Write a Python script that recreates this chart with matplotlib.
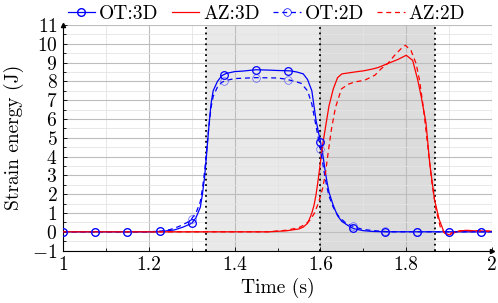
import numpy as np
import matplotlib
matplotlib.use("Agg")
import matplotlib.pyplot as plt
from matplotlib.ticker import MultipleLocator

plt.rcParams['font.family'] = 'serif'
plt.rcParams['font.serif'] = ['cmr10']
plt.rcParams['mathtext.fontset'] = 'cm'
plt.rcParams['axes.formatter.use_mathtext'] = True
plt.rcParams['font.size'] = 14

# OT:3D
ot3_t = [1.00, 1.20, 1.23, 1.26, 1.28, 1.30, 1.31, 1.32, 1.325, 1.33, 1.335, 1.34, 1.345,
         1.35, 1.36, 1.37, 1.38, 1.40, 1.42, 1.45, 1.48, 1.50, 1.53, 1.545, 1.56, 1.57,
         1.58, 1.59, 1.60, 1.605, 1.61, 1.615, 1.62, 1.63, 1.64, 1.65, 1.66, 1.67, 1.68,
         1.70, 1.72, 1.75, 2.00]
ot3_e = [0.0, 0.0, 0.02, 0.1, 0.25, 0.45, 0.75, 1.3, 2.0, 2.9, 4.2, 5.6, 6.8,
         7.5, 8.0, 8.3, 8.42, 8.52, 8.55, 8.62, 8.6, 8.58, 8.56, 8.5, 8.4, 8.1,
         7.5, 5.9, 4.8, 4.2, 3.4, 2.7, 2.1, 1.4, 0.85, 0.55, 0.4, 0.25, 0.15,
         0.06, 0.02, 0.0, 0.0]

# OT:2D
ot2_t = [1.00, 1.20, 1.23, 1.25, 1.27, 1.29, 1.30, 1.31, 1.32, 1.325, 1.33, 1.335, 1.34,
         1.345, 1.35, 1.36, 1.37, 1.38, 1.40, 1.45, 1.50, 1.52, 1.54, 1.555, 1.57, 1.58,
         1.59, 1.60, 1.605, 1.61, 1.615, 1.62, 1.63, 1.64, 1.65, 1.66, 1.68, 1.70, 1.73,
         1.76, 2.00]
ot2_e = [0.0, 0.0, 0.04, 0.12, 0.28, 0.5, 0.7, 1.0, 1.6, 2.3, 3.2, 4.4, 5.6,
         6.6, 7.2, 7.7, 7.95, 8.05, 8.15, 8.2, 8.18, 8.12, 8.0, 7.9, 7.5, 6.8,
         5.6, 4.4, 3.7, 3.0, 2.4, 1.9, 1.3, 0.9, 0.65, 0.45, 0.25, 0.12, 0.05,
         0.0, 0.0]

# AZ:3D
az3_t = [1.00, 1.48, 1.52, 1.55, 1.56, 1.57, 1.575, 1.58, 1.585, 1.59, 1.595, 1.60,
         1.605, 1.61, 1.615, 1.62, 1.63, 1.64, 1.65, 1.665, 1.68, 1.70, 1.72, 1.735,
         1.757, 1.78, 1.80, 1.815, 1.827, 1.835, 1.846, 1.855, 1.866, 1.877, 1.889,
         1.90, 1.92, 1.94, 1.96, 2.00]
az3_e = [0.0, 0.0, 0.05, 0.15, 0.25, 0.45, 0.7, 1.0, 1.4, 2.0, 2.8, 3.7,
         4.6, 5.3, 6.0, 6.7, 7.6, 8.2, 8.4, 8.45, 8.5, 8.56, 8.65, 8.74,
         8.95, 9.16, 9.39, 9.12, 8.06, 7.18, 5.8, 3.6, 1.7, 0.64, -0.07,
         -0.16, 0.02, 0.08, 0.05, 0.03]

# AZ:2D
az2_t = [1.00, 1.48, 1.52, 1.55, 1.565, 1.575, 1.585, 1.595, 1.605, 1.611, 1.618, 1.626,
         1.635, 1.649, 1.665, 1.68, 1.703, 1.727, 1.742, 1.757, 1.773, 1.788, 1.798, 1.811,
         1.823, 1.831, 1.84, 1.85, 1.86, 1.87, 1.88, 1.89, 1.90, 1.92, 1.94, 2.00]
az2_e = [0.0, 0.0, 0.08, 0.22, 0.4, 0.6, 0.95, 1.5, 2.3, 3.0, 4.2, 5.5,
         6.6, 7.6, 7.85, 7.97, 8.06, 8.33, 8.68, 8.95, 9.39, 9.74, 9.92, 9.65,
         8.95, 8.06, 6.6, 4.6, 2.6, 1.1, 0.2, -0.05, -0.1, 0.05, 0.06, 0.03]

mark_t = np.arange(0, 14) * 0.075 + 1.0

fig = plt.figure(figsize=(4.98, 3.03), dpi=100)
ax = fig.add_axes([0.1265, 0.173, 0.8615, 0.7445])

ax.axvspan(4/3, 1.6, color='#e9e9e9', zorder=0, lw=0)
ax.axvspan(1.6, 1.6 + 0.8/3, color='#dcdcdc', zorder=0, lw=0)

ax.set_xlim(1, 2)
ax.set_ylim(-1, 11)
ax.xaxis.set_major_locator(MultipleLocator(0.2))
ax.xaxis.set_minor_locator(MultipleLocator(0.1))
ax.yaxis.set_major_locator(MultipleLocator(1))
ax.yaxis.set_minor_locator(MultipleLocator(0.5))
ax.grid(which='major', color='#bdbdbd', lw=0.8, zorder=0.5)
ax.grid(which='minor', color='#e4e4e4', lw=0.6, zorder=0.4)
ax.set_axisbelow(True)
ax.set_xticks([1, 1.2, 1.4, 1.6, 1.8, 2])
ax.set_xticklabels(['1', '1.2', '1.4', '1.6', '1.8', '2'])
ax.tick_params(which='both', direction='in', length=3, width=0.6, pad=4)
ax.tick_params(which='minor', length=2)

for s in ['top', 'right']:
    ax.spines[s].set_visible(False)
for s in ['left', 'bottom']:
    ax.spines[s].set_linewidth(0.8)
ax.plot(1, 0, '>k', ms=3, transform=ax.transAxes, clip_on=False)
ax.plot(0, 1, '^k', ms=3, transform=ax.transAxes, clip_on=False)

for xv in [4/3, 1.6, 1.6 + 0.8/3]:
    ax.axvline(xv, color='black', ls=(0, (1, 2)), lw=1.3, zorder=1)

ot3_m = np.interp(mark_t, ot3_t, ot3_e)
ot2_m = np.interp(mark_t, ot2_t, ot2_e)

ax.plot(ot3_t, ot3_e, color='#0000ff', lw=0.9, zorder=3)
ax.plot(mark_t, ot3_m, 'o', mfc='none', mec='#0000ff', ms=5.5, mew=0.9, zorder=5)
l2, = ax.plot(az3_t, az3_e, color='#ff0000', lw=0.9, zorder=3)
ax.plot(ot2_t, ot2_e, color='#0000ff', lw=0.9, ls=(0, (4, 3)), zorder=3)
ax.plot(mark_t, ot2_m, 'o', mfc='none', mec='#6060ff', ms=5.5, mew=0.5, zorder=4)
l4, = ax.plot(az2_t, az2_e, color='#ff0000', lw=0.9, ls=(0, (4, 3)), zorder=3)

h1, = ax.plot([], [], color='#0000ff', lw=0.9, marker='o', mfc='none', ms=5.5)
h3, = ax.plot([], [], color='#0000ff', lw=0.9, ls=(0, (4, 3)), marker='o', mfc='none',
              ms=5.5, mew=0.5)

ax.set_xlabel('Time (s)', labelpad=3)
ax.set_ylabel('Strain energy (J)', labelpad=6)

fig.legend([h1, l2, h3, l4], ['OT:3D', 'AZ:3D', 'OT:2D', 'AZ:2D'], ncol=4,
           loc='upper center', bbox_to_anchor=(0.535, 1.04), frameon=False,
           handlelength=1.4, columnspacing=0.7, handletextpad=0.2)

fig.savefig('out.png', dpi=100)
